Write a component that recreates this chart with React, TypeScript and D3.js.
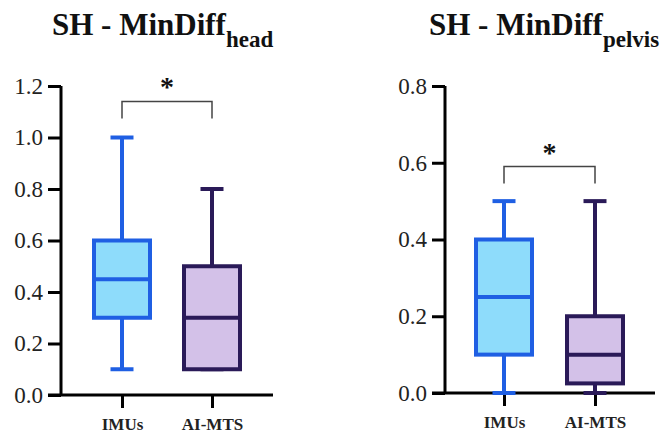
import React, { useEffect, useRef } from "react";
import * as d3 from "d3";

// data
const groups = ["IMUs", "AI-MTS"];

// [min, q1, median, q3, max]
const headIMUs = [0.1, 0.3, 0.45, 0.6, 1.0];
const headAIMTS = [0.1, 0.1, 0.3, 0.5, 0.8];
const headTicks = [0, 0.2, 0.4, 0.6, 0.8, 1.0, 1.2];

const pelvisIMUs = [0.0, 0.1, 0.25, 0.4, 0.5];
const pelvisAIMTS = [0.0, 0.025, 0.1, 0.2, 0.5];
const pelvisTicks = [0, 0.2, 0.4, 0.6, 0.8];

const strokes = ["#1f5fe3", "#2a1a58"];
const fills = ["#8edcfb", "#d3c1e8"];

const panels = [
  {
    title: "SH - MinDiff",
    sub: "head",
    stats: [headIMUs, headAIMTS],
    ticks: headTicks,
    yMax: 1.2,
    sigY: 1.14,
    left: 61,
    right: 273,
    top: 86,
    bottom: 395,
    cats: [122, 212],
    titleX: 52,
  },
  {
    title: "SH - MinDiff",
    sub: "pelvis",
    stats: [pelvisIMUs, pelvisAIMTS],
    ticks: pelvisTicks,
    yMax: 0.8,
    sigY: 0.59,
    left: 445,
    right: 655,
    top: 86,
    bottom: 393,
    cats: [504, 595],
    titleX: 429,
  },
];

const font = '"Liberation Serif", "DejaVu Serif", serif';

export default function App() {
  const ref = useRef<SVGSVGElement>(null);

  useEffect(() => {
    const svg = d3.select(ref.current);
    svg.selectAll("*").remove();

    panels.forEach((p) => {
      const g = svg.append("g").style("font-family", font);
      const y = d3.scaleLinear().domain([0, p.yMax]).range([p.bottom, p.top]);
      const x = d3
        .scalePoint()
        .domain(groups)
        .range([p.cats[0], p.cats[1]]);

      // title
      const t = g
        .append("text")
        .attr("x", p.titleX)
        .attr("y", 35)
        .style("font-family", font)
        .attr("font-weight", "bold")
        .attr("font-size", 31)
        .attr("fill", "#111");
      t.append("tspan").text(p.title);
      t.append("tspan")
        .attr("dy", 12)
        .attr("font-size", 23)
        .text(p.sub);

      // y axis
      const yAxis = d3
        .axisLeft(y)
        .tickValues(p.ticks)
        .tickSize(13)
        .tickPadding(5)
        .tickFormat(d3.format(".1f"));
      const ya = g
        .append("g")
        .attr("transform", `translate(${p.left},0)`)
        .call(yAxis);
      ya.select(".domain")
        .attr("d", `M0,${p.top}V${p.bottom}`)
        .attr("stroke", "#000")
        .attr("stroke-width", 3);
      ya.selectAll(".tick line").attr("stroke", "#000").attr("stroke-width", 3);
      ya.selectAll(".tick text")
        .style("font-family", font)
        .attr("font-size", 23)
        .attr("fill", "#222");

      // x axis
      g.append("line")
        .attr("x1", p.left - 13)
        .attr("x2", p.right)
        .attr("y1", p.bottom)
        .attr("y2", p.bottom)
        .attr("stroke", "#000")
        .attr("stroke-width", 3);
      const xAxis = d3.axisBottom(x).tickSize(13).tickPadding(10);
      const xa = g
        .append("g")
        .attr("transform", `translate(0,${p.bottom})`)
        .call(xAxis);
      xa.select(".domain").remove();
      xa.selectAll(".tick line").attr("stroke", "#000").attr("stroke-width", 3);
      xa.selectAll(".tick text")
        .style("font-family", font)
        .attr("font-weight", "bold")
        .attr("font-size", 17)
        .attr("fill", "#222");

      // boxes
      const boxW = 56;
      const capW = 23;
      p.stats.forEach((s, i) => {
        const cx = x(groups[i]) as number;
        const [mn, q1, med, q3, mx] = s;
        const bg = g.append("g");
        bg.append("line")
          .attr("x1", cx)
          .attr("x2", cx)
          .attr("y1", y(mx))
          .attr("y2", y(mn))
          .attr("stroke", strokes[i])
          .attr("stroke-width", 4);
        [mn, mx].forEach((v) => {
          bg.append("line")
            .attr("x1", cx - capW / 2)
            .attr("x2", cx + capW / 2)
            .attr("y1", y(v))
            .attr("y2", y(v))
            .attr("stroke", strokes[i])
            .attr("stroke-width", 4);
        });
        bg.append("rect")
          .attr("x", cx - boxW / 2)
          .attr("y", y(q3))
          .attr("width", boxW)
          .attr("height", y(q1) - y(q3))
          .attr("fill", fills[i])
          .attr("stroke", strokes[i])
          .attr("stroke-width", 4);
        bg.append("line")
          .attr("x1", cx - boxW / 2)
          .attr("x2", cx + boxW / 2)
          .attr("y1", y(med))
          .attr("y2", y(med))
          .attr("stroke", strokes[i])
          .attr("stroke-width", 4);
      });

      // significance bracket
      const x0 = x(groups[0]) as number;
      const x1 = x(groups[1]) as number;
      const by = y(p.sigY);
      g.append("path")
        .attr("d", `M${x0},${by + 17}V${by}H${x1}V${by + 17}`)
        .attr("fill", "none")
        .attr("stroke", "#444")
        .attr("stroke-width", 1.5);
      g.append("text")
        .attr("x", (x0 + x1) / 2)
        .attr("y", by - 5)
        .attr("text-anchor", "middle")
        .style("font-family", font)
        .attr("font-weight", "bold")
        .attr("font-size", 28)
        .attr("fill", "#111")
        .text("*");
    });
  }, []);

  return (
    <svg
      ref={ref}
      width={672}
      height={434}
      style={{ position: "absolute", left: 0, top: 0, background: "#fff" }}
    />
  );
}
